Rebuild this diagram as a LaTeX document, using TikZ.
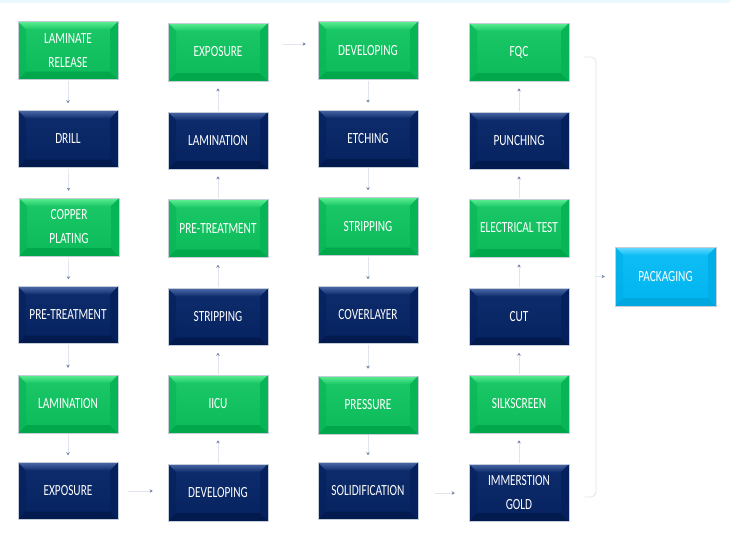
\documentclass[tikz,border=0pt]{standalone}
\usepackage{fontspec}
\setmainfont[FakeStretch=0.73]{Carlito}
\usetikzlibrary{arrows.meta}
\definecolor{gmain}{HTML}{0CBA5A}
\definecolor{gmaintop}{HTML}{1CC867}
\definecolor{gtop}{HTML}{5CEE92}
\definecolor{gbot}{HTML}{00A84B}
\definecolor{gside}{HTML}{08B556}
\definecolor{nmain}{HTML}{062260}
\definecolor{nmaintop}{HTML}{0E2C6C}
\definecolor{ntop}{HTML}{4A68A6}
\definecolor{nbot}{HTML}{021A4E}
\definecolor{nside}{HTML}{05205C}
\definecolor{cmain}{HTML}{00B4EE}
\definecolor{cmaintop}{HTML}{10BEF5}
\definecolor{ctop}{HTML}{66DAFF}
\definecolor{cbot}{HTML}{00A6DE}
\definecolor{cside}{HTML}{00AEE8}
\definecolor{connc}{HTML}{E0E4EC}
\definecolor{tipc}{HTML}{7282A8}
\definecolor{edgec}{HTML}{C5CDD8}
\newlength{\bv}\setlength{\bv}{8pt}
\newcommand{\bevelfill}[5]{%
  \shade[top color=#2,bottom color=#1] (path picture bounding box.south west) rectangle (path picture bounding box.north east);
  \shade[top color=#3,bottom color=#2] (path picture bounding box.north west) -- (path picture bounding box.north east) -- ([xshift=-\bv,yshift=-\bv]path picture bounding box.north east) -- ([xshift=\bv,yshift=-\bv]path picture bounding box.north west) -- cycle;
  \fill[#4] (path picture bounding box.south west) -- (path picture bounding box.south east) -- ([xshift=-\bv,yshift=\bv]path picture bounding box.south east) -- ([xshift=\bv,yshift=\bv]path picture bounding box.south west) -- cycle;
  \fill[#5] (path picture bounding box.north east) -- (path picture bounding box.south east) -- ([xshift=-\bv,yshift=\bv]path picture bounding box.south east) -- ([xshift=-\bv,yshift=-\bv]path picture bounding box.north east) -- cycle;
  \fill[#5,opacity=0.6] (path picture bounding box.north west) -- (path picture bounding box.south west) -- ([xshift=\bv,yshift=\bv]path picture bounding box.south west) -- ([xshift=\bv,yshift=-\bv]path picture bounding box.north west) -- cycle;
}
\tikzset{
  boxbase/.style={minimum width=100pt, inner sep=0pt, text=white, align=center,
    font=\fontsize{15.5}{24}\selectfont, draw=edgec, line width=0.5pt},
  gbox/.style={boxbase, minimum height=58pt, path picture={\bevelfill{gmain}{gmaintop}{gtop}{gbot}{gside}}},
  nbox/.style={boxbase, minimum height=57pt, path picture={\bevelfill{nmain}{nmaintop}{ntop}{nbot}{nside}}},
  cbox/.style={boxbase, minimum height=59pt, path picture={\bevelfill{cmain}{cmaintop}{ctop}{cbot}{cside}}},
  conn/.style={draw=connc, line width=0.7pt, -{Stealth[length=3pt,width=3.5pt,color=tipc]}, shorten >=7pt, shorten <=1pt},
}
\begin{document}
\begin{tikzpicture}[x=1pt,y=-1pt]
\useasboundingbox (0,0) rectangle (730,549);
\fill[white] (0,0) rectangle (730,549);
\fill[cyan!8] (0,0) rectangle (730,2.5);
% column 1
\node[gbox] (a1) at (68,50.5) {LAMINATE\\RELEASE};
\node[nbox] (a2) at (68,139) {DRILL};
\node[gbox] (a3) at (69,227) {COPPER\\PLATING};
\node[nbox] (a4) at (68,315) {PRE-TREATMENT};
\node[gbox] (a5) at (68,404) {LAMINATION};
\node[nbox] (a6) at (68,491) {EXPOSURE};
% column 2
\node[gbox] (b1) at (218,52) {EXPOSURE};
\node[nbox] (b2) at (218,140.5) {LAMINATION};
\node[gbox] (b3) at (218,228.5) {PRE-TREATMENT};
\node[nbox] (b4) at (218,317) {STRIPPING};
\node[gbox] (b5) at (218,404) {IICU};
\node[nbox] (b6) at (218,492.5) {DEVELOPING};
% column 3
\node[gbox] (c1) at (368,50.5) {DEVELOPING};
\node[nbox] (c2) at (368,138.5) {ETCHING};
\node[gbox] (c3) at (368,226.5) {STRIPPING};
\node[nbox] (c4) at (368,315) {COVERLAYER};
\node[gbox] (c5) at (368,405) {PRESSURE};
\node[nbox] (c6) at (368,491) {SOLIDIFICATION};
% column 4
\node[gbox] (d1) at (519,52) {FQC};
\node[nbox] (d2) at (519,140.5) {PUNCHING};
\node[gbox] (d3) at (519,228) {ELECTRICAL TEST};
\node[nbox] (d4) at (519,317) {CUT};
\node[gbox] (d5) at (519,404) {SILKSCREEN};
\node[nbox] (d6) at (519,492.5) {IMMERSTION\\GOLD};
% packaging
\node[cbox, minimum width=101pt] (pk) at (665.5,276.5) {PACKAGING};
% connectors
\foreach \u/\v in {a1/a2,a2/a3,a3/a4,a4/a5,a5/a6,
                   b6/b5,b5/b4,b4/b3,b3/b2,b2/b1,
                   c1/c2,c2/c3,c3/c4,c4/c5,c5/c6,
                   d6/d5,d5/d4,d4/d3,d3/d2,d2/d1}
  \draw[conn] (\u) -- (\v);
\draw[conn, shorten <=10pt, shorten >=15pt] (a6.east) -- (a6.east -| b6.west);
\draw[conn, shorten <=15pt, shorten >=12pt] ([yshift=8pt]b1.east) -- ([yshift=8pt]b1.east -| c1.west);
\draw[conn, shorten <=17pt, shorten >=14pt] ([yshift=-2pt]c6.east) -- ([yshift=-2pt]c6.east -| d6.west);
% bracket to packaging
\coordinate (bt) at ([xshift=15pt,yshift=-5pt]d1.east);
\coordinate (bb) at ([xshift=15pt,yshift=-4.5pt]d6.east);
\coordinate (bx) at (596,276.5);
\draw[connc, line width=0.8pt, rounded corners=5pt] (bt) -- (bt -| bx) -- (bb -| bx) -- (bb);
\draw[conn, shorten <=0pt, shorten >=10pt] (bx) -- (pk.west);
\end{tikzpicture}
\end{document}
